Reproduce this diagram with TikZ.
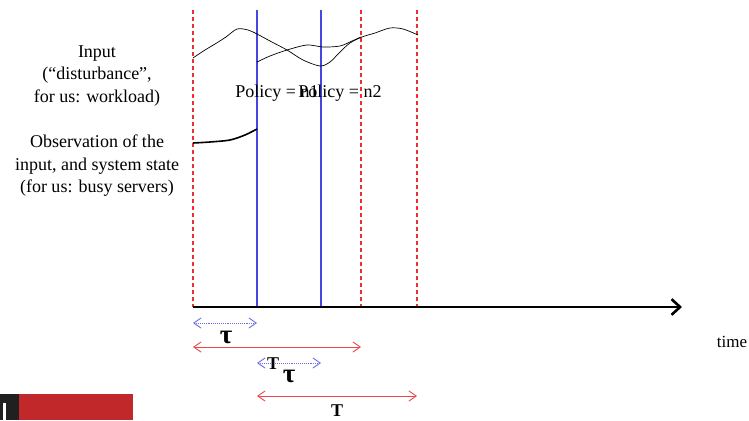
\documentclass[tikz,border=0pt]{standalone}
\usepackage{amsmath}
\usepackage{fontspec}
\setmainfont{Liberation Serif}
\usetikzlibrary{arrows.meta,calc,positioning}
\definecolor{WindowRed}{HTML}{E8262A}
\definecolor{SwitchBlue}{HTML}{3C3CE0}
\definecolor{LogoRed}{HTML}{C0282A}
\definecolor{LogoBlack}{HTML}{202020}
\tikzset{
  windowline/.style={color=WindowRed!95,dash pattern=on 4pt off 3pt,line width=1.1pt},
  policyline/.style={color=SwitchBlue!95,line width=1.1pt},
  signal/.style={draw=black,line width=.7pt},
  observed/.style={draw=black,line width=1.6pt},
  timeaxis/.style={-{Straight Barb[length=3mm,width=5.5mm]},draw=black,line width=2.6pt},
  horizon/.style={{Straight Barb[length=2.6mm,width=3.6mm]}-{Straight Barb[length=2.6mm,width=3.6mm]},draw=WindowRed!85,line width=.9pt},
  delay/.style={{Straight Barb[length=2.6mm,width=3.6mm]}-{Straight Barb[length=2.6mm,width=3.6mm]},draw=SwitchBlue!75,densely dotted,line width=.9pt},
  sidelabel/.style={font=\fontsize{18}{22.5}\selectfont,align=center,inner sep=1pt},
  marklabel/.style={font=\fontsize{18}{20}\selectfont\bfseries,inner sep=0pt},
  taulabel/.style={font=\fontsize{27}{27}\selectfont\bfseries,inner sep=0pt}
}
\begin{document}
\begin{tikzpicture}[x=1pt,y=-1pt]
  \useasboundingbox (0,0) rectangle (749,420);
  % time axis, prediction windows and policy switches
  \coordinate (t0) at (193,307);
  \coordinate (tend) at (682,307);
  \foreach \nm/\xpos in {w0/193,w1/361,w2/417}{
    \coordinate (\nm top) at (\xpos,10);
    \coordinate (\nm) at (\xpos,307);
    \draw[windowline] (\nm top)--(\nm);
  }
  \foreach \nm/\xpos in {s1/257,s2/321}{
    \coordinate (\nm top) at (\xpos,10);
    \coordinate (\nm) at (\xpos,307);
    \draw[policyline] (\nm top)--(\nm);
  }
  \draw[timeaxis] (t0)--(tend);
  \node[sidelabel,anchor=base,font=\fontsize{17}{20}\selectfont] (time) at (732,347) {time};

  % input and its observation
  \draw[signal] plot[smooth,tension=.5] coordinates {(193,58) (205,50) (215,44) (226,37) (237,29) (248,30)
    (257,34) (270,41) (287,50) (303,60) (320,66) (330,62) (340,52) (350,43) (362,37) (375,33)
    (390,28) (403,29) (418,35)};
  \draw[signal] plot[smooth,tension=.5] coordinates {(257,62) (270,56) (287,50) (307,45) (323,47)
    (340,46) (352,41) (361,37)};
  \draw[observed] plot[smooth,tension=.5] coordinates {(193,143) (210,142) (230,140) (245,135) (257,129)};

  \node[sidelabel] (input) at (97,76) {Input\\(“disturbance”,\\for us: workload)};
  \node[sidelabel] (obs) at (97,166) {Observation of the\\input, and system state\\(for us: busy servers)};
  \node[sidelabel] (pol1) at (277,93) {Policy = n1};
  \node[sidelabel] (pol2) at (340,93) {Policy = n2};

  % delays and horizons
  \coordinate (d1a) at ($(w0)+(0,16)$);
  \coordinate (d1b) at ($(s1)+(0,16)$);
  \coordinate (h1a) at ($(w0)+(0,40)$);
  \coordinate (h1b) at ($(w1)+(0,40)$);
  \coordinate (d2a) at ($(s1)+(0,56)$);
  \coordinate (d2b) at ($(s2)+(0,56)$);
  \coordinate (h2a) at ($(s1)+(0,89)$);
  \coordinate (h2b) at ($(w2)+(0,89)$);
  \draw[delay] (d1a)--(d1b);
  \draw[horizon] (h1a)--(h1b);
  \draw[delay] (d2a)--(d2b);
  \draw[horizon] (h2a)--(h2b);
  \node[taulabel] (tau1) at (226,337) {τ};
  \node[marklabel] (T1) at (273,364) {T};
  \node[taulabel] (tau2) at (289,376) {τ};
  \node[marklabel] (T2) at (337,411) {T};

  % logo strip
  \fill[LogoBlack] (0,394) rectangle (19,420);
  \fill[white] (3,403) rectangle (6,420);
  \fill[LogoRed] (19,394) rectangle (133,420);
\end{tikzpicture}
\end{document}
